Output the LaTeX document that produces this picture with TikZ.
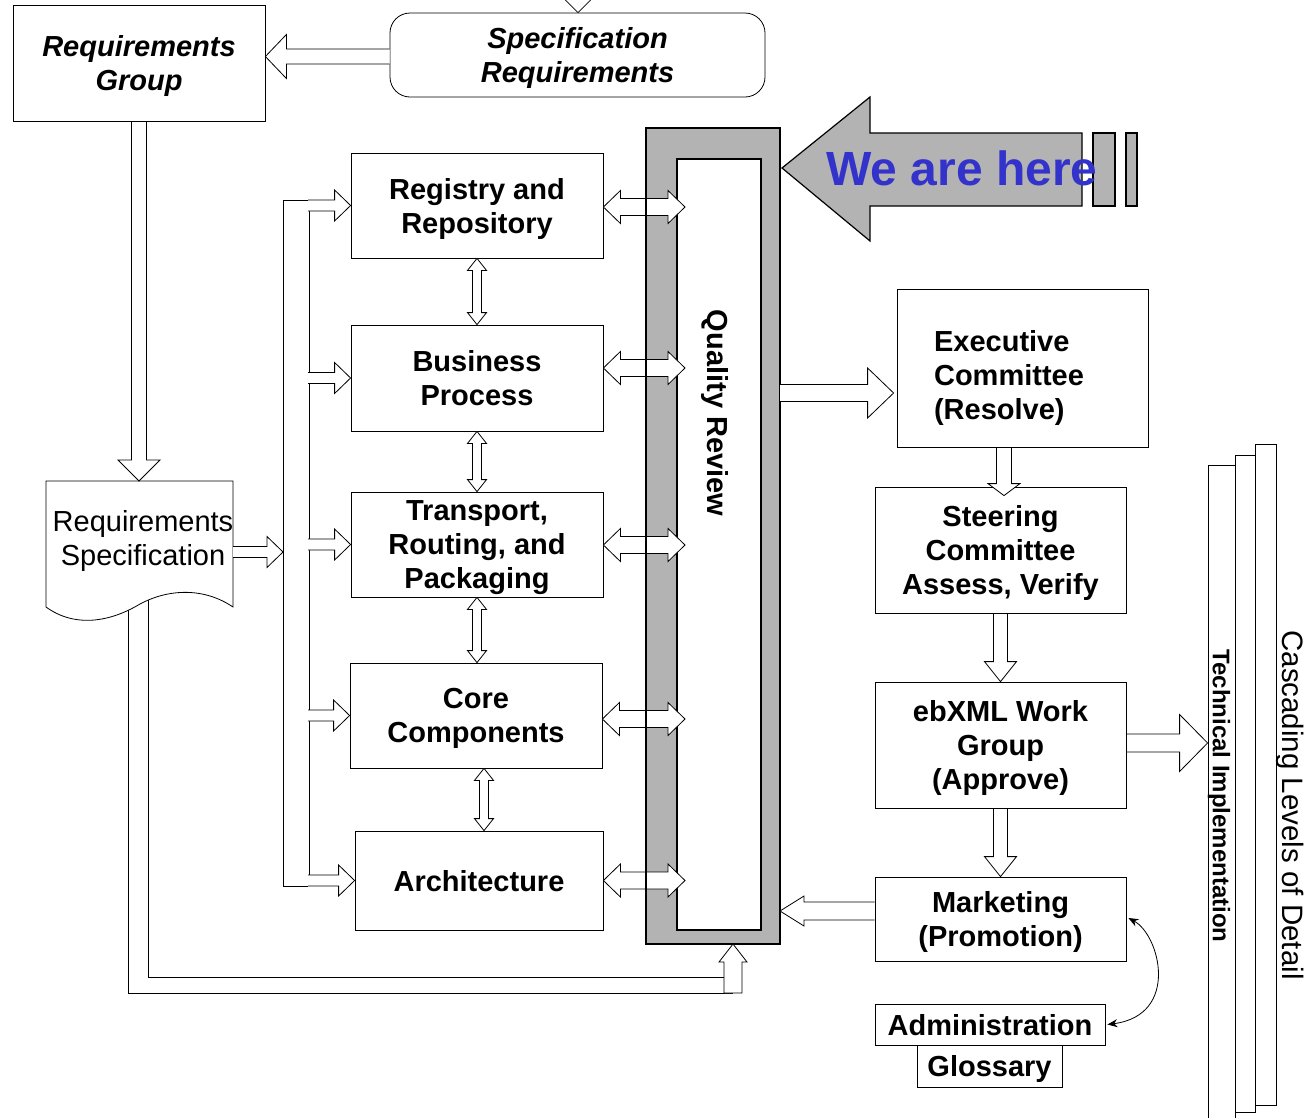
\documentclass[tikz,border=0pt]{standalone}
\usepackage{fontspec}
\setmainfont{Liberation Sans}
\usetikzlibrary{calc,arrows.meta}

\definecolor{qgray}{RGB}{179,179,179}
\definecolor{hereblue}{RGB}{51,51,204}

\newcommand\boxfont{\fontsize{29}{34}\selectfont}

\tikzset{
  box/.style={draw, line width=0.8pt, fill=white, inner sep=0pt, align=center, text depth=0pt, font=\boxfont\bfseries},
  arrowline/.style={draw, line width=0.8pt, fill=white},
  % hollow block arrow: shaft half width, head half width, head length
  blockarrow/.style n args={3}{arrowline, to path={
      ($(\tikztostart)!#1pt!90:(\tikztotarget)$)
      -- ($(\tikztotarget)!{veclen(#3,#1)*1pt}!{-atan(#1/#3)}:(\tikztostart)$)
      -- ($(\tikztotarget)!{veclen(#3,#2)*1pt}!{-atan(#2/#3)}:(\tikztostart)$)
      -- (\tikztotarget)
      -- ($(\tikztotarget)!{veclen(#3,#2)*1pt}!{atan(#2/#3)}:(\tikztostart)$)
      -- ($(\tikztotarget)!{veclen(#3,#1)*1pt}!{atan(#1/#3)}:(\tikztostart)$)
      -- ($(\tikztostart)!#1pt!-90:(\tikztotarget)$) -- cycle}},
  openarrow/.style n args={3}{arrowline, to path={
      ($(\tikztostart)!#1pt!90:(\tikztotarget)$)
      -- ($(\tikztotarget)!{veclen(#3,#1)*1pt}!{-atan(#1/#3)}:(\tikztostart)$)
      -- ($(\tikztotarget)!{veclen(#3,#2)*1pt}!{-atan(#2/#3)}:(\tikztostart)$)
      -- (\tikztotarget)
      -- ($(\tikztotarget)!{veclen(#3,#2)*1pt}!{atan(#2/#3)}:(\tikztostart)$)
      -- ($(\tikztotarget)!{veclen(#3,#1)*1pt}!{atan(#1/#3)}:(\tikztostart)$)
      -- ($(\tikztostart)!#1pt!-90:(\tikztotarget)$)}},
  dblarrow/.style n args={3}{arrowline, to path={
      (\tikztostart)
      -- ($(\tikztostart)!{veclen(#3,#2)*1pt}!{atan(#2/#3)}:(\tikztotarget)$)
      -- ($(\tikztostart)!{veclen(#3,#1)*1pt}!{atan(#1/#3)}:(\tikztotarget)$)
      -- ($(\tikztotarget)!{veclen(#3,#1)*1pt}!{-atan(#1/#3)}:(\tikztostart)$)
      -- ($(\tikztotarget)!{veclen(#3,#2)*1pt}!{-atan(#2/#3)}:(\tikztostart)$)
      -- (\tikztotarget)
      -- ($(\tikztotarget)!{veclen(#3,#2)*1pt}!{atan(#2/#3)}:(\tikztostart)$)
      -- ($(\tikztotarget)!{veclen(#3,#1)*1pt}!{atan(#1/#3)}:(\tikztostart)$)
      -- ($(\tikztostart)!{veclen(#3,#1)*1pt}!{-atan(#1/#3)}:(\tikztotarget)$)
      -- ($(\tikztostart)!{veclen(#3,#2)*1pt}!{-atan(#2/#3)}:(\tikztotarget)$)
      -- cycle}},
}

\begin{document}
\begin{tikzpicture}[x=1pt,y=1pt,yscale=-1,xscale=1]
\useasboundingbox (0,0) rectangle (1312,1117);

%Shape: Rectangle [Quality Review bar]
\node[draw, line width=2pt, fill=qgray, minimum width=134, minimum height=816, inner sep=0pt, outer sep=0pt] (qbar) at (713,536) {};
\node[draw, line width=1.2pt, fill=white, minimum width=84, minimum height=771, inner sep=0pt, outer sep=0pt] (qinner) at (719,544.5) {};
% Text Node
\draw (715,413) node [rotate=-90, font=\boxfont\bfseries] (qtext) {Quality Review};

%Shape: Boxes [top left]
\node[box, font=\boxfont\bfseries\itshape, minimum width=252, minimum height=116] (reqgroup) at (139,63) {Requirements\\Group};
\node[box, font=\boxfont\bfseries\itshape, rounded corners=20, minimum width=375, minimum height=84] (spec) at (577.5,55) {Specification\\Requirements};

%Shape: Boxes [work groups]
\node[box, minimum width=252, minimum height=105] (registry) at (477,205.5) {Registry and\\Repository};
\node[box, minimum width=252, minimum height=106] (business) at (477,378) {Business\\Process};
\node[box, minimum width=252, minimum height=105] (transport) at (477,544.5) {Transport,\\Routing, and\\Packaging};
\node[box, minimum width=252, minimum height=105] (core) at (476,715.5) {Core\\Components};
\node[box, minimum width=248, minimum height=99] (arch) at (479,880.5) {Architecture};

%Shape: Boxes [approval chain]
\node[box, minimum width=251, minimum height=158] (exec) at (1022.5,368) {};
% Text Node
\draw (1009,375) node [font=\boxfont\bfseries, align=left, text depth=0pt] (exectext) {Executive\\Committee\\(Resolve)};
\node[box, minimum width=251, minimum height=126] (steer) at (1000.5,550) {Steering\\Committee\\Assess, Verify};
\node[box, minimum width=251, minimum height=126] (ebxml) at (1000.5,745) {ebXML Work\\Group\\(Approve)};
\node[box, minimum width=251, minimum height=84] (marketing) at (1000.5,919) {Marketing\\(Promotion)};
\node[box, minimum width=230, minimum height=41] (admin) at (990,1024.5) {Administration};
\node[box, minimum width=145, minimum height=42] (glossary) at (989.5,1066) {Glossary};

%Straight Lines [return pipe]
\coordinate (u0) at (733,993);
\coordinate (u1) at (u0 |- qbar.south);
\draw[line width=0.8pt] (128,600) |- (u0);
\draw[line width=0.8pt] (148,600) |- (724,977);
\draw[blockarrow={9}{14}{18}] (u0) to (u1);

%Shape: Document
\draw[line width=0.8pt, fill=white] (46,481) -- (233,481) -- (233,607) .. controls (205,588) and (170,588) .. (140,604) .. controls (110,622) and (75,628) .. (46,607) -- cycle;
% Text Node
\draw (143,541) node [font=\boxfont, align=center] (reqspec) {Requirements\\Specification};

%Straight Lines [bus]
\coordinate (bus) at (308,0);
\coordinate (qtip) at (685,0);
\foreach \b in {registry,business,transport,core,arch}
  \coordinate (\b-bus) at (\b.west -| bus);
\draw[line width=0.8pt] ($(registry-bus)+(0,-5.5)$) -| (283,886) -- ($(arch-bus)+(0,5.5)$);
\draw[line width=0.8pt] ($(registry-bus)+(1,5.5)$) -- ($(arch-bus)+(1,-5.5)$);
\foreach \b in {registry,business,transport,core,arch}
  \draw[openarrow={5.5}{15.5}{16}] (\b-bus) to (\b.west);

%Block Arrows [left side]
\coordinate (t0) at (578,-40);
\coordinate (t1) at (t0 |- spec.north);
\draw[blockarrow={7}{15}{15}] (t0) to (t1);
\coordinate (s0) at ($(spec.west)+(0,1.5)$);
\coordinate (s1) at (s0 -| reqgroup.east);
\draw[openarrow={7.5}{22}{21}] (s0) to (s1);
\coordinate (d2) at (139,481);
\draw[blockarrow={7.5}{21}{21}] (reqgroup.south) to (d2);
\coordinate (d0) at (233,552);
\coordinate (d1) at (283,552);
\draw[openarrow={5.5}{15.5}{16}] (d0) to (d1);

%Block Arrows [between work groups]
\draw[dblarrow={4.5}{9.5}{12}] (registry.south) to (business.north);
\draw[dblarrow={4.5}{9.5}{12}] (business.south) to (transport.north);
\coordinate (tc) at (transport.south |- core.north);
\draw[dblarrow={4.5}{9.5}{12}] (transport.south) to (tc);
\coordinate (c0) at ($(core.south)+(8,0)$);
\coordinate (c1) at (c0 |- arch.north);
\draw[dblarrow={4.5}{9.5}{12}] (c0) to (c1);

%Block Arrows [to quality review]
\foreach \b/\dy in {registry/1.5, business/-10, transport/0.5, core/3.5, arch/0} {
  \coordinate (\b-a) at ($(\b.east)+(0,\dy)$);
  \coordinate (\b-q) at (\b-a -| qtip);
  \draw[dblarrow={8.5}{16.5}{17}] (\b-a) to (\b-q);
}
\draw[line width=2pt] (qbar.north west) -- (qbar.south west);

%Block Arrows [right side]
\coordinate (e1) at ($(exec.west)+(-3,25)$);
\coordinate (e0) at (e1 -| qbar.east);
\draw[openarrow={8.5}{25}{26}] (e0) to (e1);
\coordinate (x1) at ($(steer.north)+(3.5,9)$);
\coordinate (x0) at (x1 |- exec.south);
\draw[blockarrow={7.5}{16}{12}] (x0) to (x1);
\draw[blockarrow={7}{16}{20}] (steer.south) to (ebxml.north);
\draw[blockarrow={7}{16}{20}] (ebxml.south) to (marketing.north);
\coordinate (m0) at ($(marketing.west)+(0,-8)$);
\coordinate (m1) at (m0 -| qbar.east);
\draw[openarrow={9}{15}{24}] (m0) to (m1);

%Curve Lines [marketing - administration]
\draw[line width=0.8pt, {Stealth[length=10pt,width=8pt]}-{Stealth[length=10pt,width=8pt]}] ($(marketing.east)+(2,-1)$) .. controls (1160,935) and (1180,1015) .. ($(admin.east)+(2,0)$);

%Shape: Left Arrow [We are here]
\draw[line width=1.2pt, fill=qgray] (782,168) -- (870,97) -- (870,133) -- (1082,133) -- (1082,206) -- (870,206) -- (870,241) -- cycle;
\draw[line width=1.2pt, fill=qgray] (1093,133) rectangle (1115,206);
\draw[line width=1.2pt, fill=qgray] (1126,133) rectangle (1137,206);
% Text Node
\draw (962,168) node [font=\fontsize{48}{56}\selectfont\bfseries, text=hereblue] (here) {We are here};

%Shape: Stacked pages [levels of detail]
\draw[line width=0.8pt, fill=white] (1255,444) rectangle (1276,1105);
\draw[line width=0.8pt, fill=white] (1235,455) rectangle (1255,1112);
\node[draw, line width=0.8pt, fill=white, minimum width=27, minimum height=665, inner sep=0pt] (tech) at (1221.5,797.5) {};
\coordinate (k0) at ($(ebxml.east)+(0,-2)$);
\coordinate (k1) at (k0 -| tech.west);
\draw[blockarrow={9}{28.5}{28}] (k0) to (k1);
% Text Node
\draw (1219,796) node [rotate=-90, font=\fontsize{24}{28}\selectfont\bfseries] (techtext) {Technical Implementation};
% Text Node
\draw (1290,805) node [rotate=-90, font=\fontsize{29.5}{34}\selectfont] (cascade) {Cascading Levels of Detail};

\end{tikzpicture}
\end{document}
